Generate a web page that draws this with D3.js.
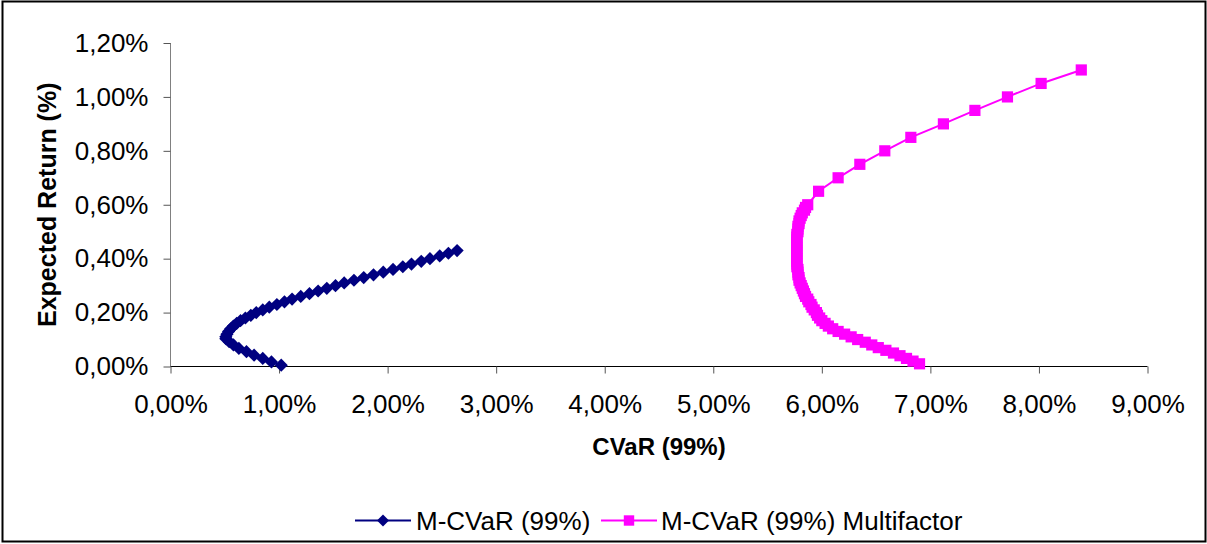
<!DOCTYPE html>
<html>
<head>
<meta charset="utf-8">
<script src="https://cdn.jsdelivr.net/npm/d3@7"></script>
<style>
  body { margin: 0; background: #fff; }
  svg { display: block; }
  text { font-family: "Liberation Sans", Arial, sans-serif; fill: #000; }
</style>
</head>
<body>
<svg id="chart" width="1207" height="544"></svg>
<script>
// Efficient frontiers: expected return (%) against CVaR 99% (%)
const mcvarReturn = [
  0.005, 0.017, 0.030, 0.042, 0.055, 0.067, 0.080, 0.092, 0.103,
  0.11, 0.12, 0.13, 0.14, 0.15, 0.16, 0.17, 0.18, 0.19, 0.20,
  0.21, 0.22, 0.23, 0.24, 0.25, 0.26, 0.27, 0.28, 0.29, 0.30,
  0.31, 0.32, 0.33, 0.34, 0.35, 0.36, 0.37, 0.38, 0.39, 0.40,
  0.41, 0.42, 0.43
];
const mcvarRisk = [
  1.02, 0.93, 0.85, 0.77, 0.70, 0.63, 0.58, 0.54, 0.51,
  0.51, 0.52, 0.535, 0.555, 0.58, 0.61, 0.645, 0.69, 0.74, 0.79,
  0.85, 0.91, 0.98, 1.05, 1.12, 1.20, 1.28, 1.36, 1.44, 1.52,
  1.60, 1.69, 1.78, 1.87, 1.96, 2.05, 2.14, 2.22, 2.31, 2.39,
  2.48, 2.56, 2.64
];

const multiReturn = [
  0.01, 0.02, 0.03, 0.04, 0.05, 0.06, 0.07, 0.08, 0.09, 0.10,
  0.11, 0.12, 0.13, 0.14, 0.15, 0.16, 0.17, 0.18, 0.19, 0.20,
  0.21, 0.22, 0.23, 0.24, 0.25, 0.26, 0.27, 0.28, 0.29, 0.30,
  0.31, 0.32, 0.33, 0.34, 0.35, 0.36, 0.37, 0.38, 0.39, 0.40,
  0.41, 0.42, 0.43, 0.44, 0.45, 0.46, 0.47, 0.48, 0.49, 0.50,
  0.51, 0.52, 0.53, 0.54, 0.55, 0.56, 0.57, 0.58, 0.59, 0.60,
  0.65, 0.70, 0.75, 0.80, 0.85, 0.90, 0.95, 1.00, 1.05, 1.10
];
const multiRisk = [
  6.90, 6.84, 6.78, 6.72, 6.66, 6.59, 6.52, 6.46, 6.40, 6.33,
  6.27, 6.21, 6.15, 6.10, 6.06, 6.03, 6.00, 5.98, 5.96, 5.95,
  5.93, 5.91, 5.90, 5.88, 5.87, 5.85, 5.84, 5.83, 5.82, 5.81,
  5.80, 5.79, 5.79, 5.78, 5.78, 5.78, 5.77, 5.77, 5.77, 5.77,
  5.77, 5.77, 5.77, 5.77, 5.77, 5.77, 5.77, 5.77, 5.77, 5.78,
  5.78, 5.78, 5.79, 5.79, 5.80, 5.81, 5.82, 5.84, 5.85, 5.87,
  5.97, 6.15, 6.35, 6.58, 6.82, 7.12, 7.41, 7.71, 8.02, 8.39
];

const xTicks = [0, 1, 2, 3, 4, 5, 6, 7, 8, 9];
const xTickLabels = ["0,00%", "1,00%", "2,00%", "3,00%", "4,00%", "5,00%", "6,00%", "7,00%", "8,00%", "9,00%"];
const yTicks = [0, 0.2, 0.4, 0.6, 0.8, 1.0, 1.2];
const yTickLabels = ["0,00%", "0,20%", "0,40%", "0,60%", "0,80%", "1,00%", "1,20%"];

const seriesNames = ["M-CVaR (99%)", "M-CVaR (99%) Multifactor"];
const xTitle = "CVaR (99%)";
const yTitle = "Expected Return (%)";

const seriesColors = ["#000080", "#FF00FF"];

const svg = d3.select("#chart");
const W = 1207, H = 544;

svg.append("rect").attr("x", 0).attr("y", 0).attr("width", W).attr("height", H).attr("fill", "#fff");
// outer chart frame
svg.append("rect")
  .attr("x", 2.5).attr("y", 1.5).attr("width", 1203).attr("height", 540)
  .attr("fill", "none").attr("stroke", "#000").attr("stroke-width", 2);

const x = d3.scaleLinear().domain([0, 9]).range([170.5, 1147.5]);
const y = d3.scaleLinear().domain([0, 1.2]).range([366.5, 43]);

const fontSize = 26;

// Y axis
const yAxis = d3.axisLeft(y)
  .tickValues(yTicks)
  .tickFormat((d, i) => yTickLabels[i])
  .tickSize(7)
  .tickPadding(15);
const gy = svg.append("g").attr("transform", `translate(${x(0)},0)`).call(yAxis);
gy.select(".domain").attr("stroke", "#808080").attr("d", `M0,${y(1.2)}V${y(0)}`);
gy.selectAll(".tick line").attr("stroke", "#555");
gy.selectAll(".tick text").style("font-size", fontSize + "px").attr("fill", "#000");

// X axis
const xAxis = d3.axisBottom(x)
  .tickValues(xTicks)
  .tickFormat((d, i) => xTickLabels[i])
  .tickSize(7)
  .tickPadding(21);
const gx = svg.append("g").attr("transform", `translate(0,${y(0)})`).call(xAxis);
gx.select(".domain").attr("stroke", "#000").attr("d", `M${x(0)},0H${x(9)}`);
gx.selectAll(".tick line").attr("stroke", "#555");
gx.selectAll(".tick text").style("font-size", fontSize + "px").attr("fill", "#000");

// Axis titles
svg.append("text")
  .attr("transform", `translate(56,${(y(0) + y(1.2)) / 2}) rotate(-90)`)
  .attr("text-anchor", "middle")
  .style("font-size", "25px").style("font-weight", "bold")
  .text(yTitle);
svg.append("text")
  .attr("x", (x(0) + x(9)) / 2).attr("y", 455)
  .attr("text-anchor", "middle")
  .style("font-size", "24px").style("font-weight", "bold")
  .text(xTitle);

// Series
const series = [
  { name: seriesNames[0], color: seriesColors[0], shape: "diamond", size: 6.6,
    pts: mcvarRisk.map((v, i) => [v, mcvarReturn[i]]) },
  { name: seriesNames[1], color: seriesColors[1], shape: "square", size: 5.6,
    pts: multiRisk.map((v, i) => [v, multiReturn[i]]) }
];

const line = d3.line().x(d => x(d[0])).y(d => y(d[1]));

function markerPath(s, r) {
  r = r || s.size;
  if (s.shape === "diamond") return `M0,${-r}L${r},0L0,${r}L${-r},0Z`;
  return `M${-r},${-r}H${r}V${r}H${-r}Z`;
}

series.forEach(s => {
  const g = svg.append("g");
  g.append("path").datum(s.pts)
    .attr("d", line).attr("fill", "none")
    .attr("stroke", s.color).attr("stroke-width", 2);
  g.selectAll("path.m").data(s.pts).enter().append("path")
    .attr("class", "m")
    .attr("transform", d => `translate(${x(d[0])},${y(d[1])})`)
    .attr("d", markerPath(s))
    .attr("fill", s.color);
});

// Legend
const legendY = 520.5;
const legendItems = [
  { s: series[0], x0: 355, x1: 411, tx: 416 },
  { s: series[1], x0: 601, x1: 657, tx: 661 }
];
legendItems.forEach(it => {
  const g = svg.append("g");
  g.append("line").attr("x1", it.x0).attr("x2", it.x1)
    .attr("y1", legendY).attr("y2", legendY)
    .attr("stroke", it.s.color).attr("stroke-width", 2);
  g.append("path")
    .attr("transform", `translate(${(it.x0 + it.x1) / 2},${legendY})`)
    .attr("d", markerPath(it.s, it.s.shape === "diamond" ? 6 : 5.2)).attr("fill", it.s.color);
  g.append("text").attr("x", it.tx).attr("y", legendY + 9)
    .style("font-size", fontSize + "px")
    .text(it.s.name);
});
</script>
</body>
</html>
